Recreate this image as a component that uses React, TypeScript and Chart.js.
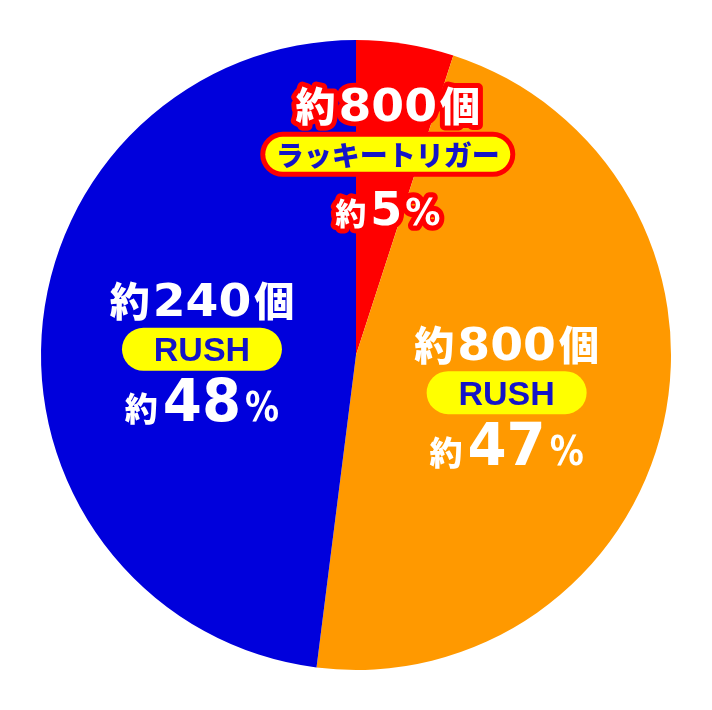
import React, { useEffect, useRef } from "react";
import { Chart, registerables } from "chart.js";

Chart.register(...registerables);

const categories = ["ラッキートリガー", "RUSH", "RUSH"];
const percents = [5, 47, 48];
const counts = ["800", "800", "240"];
const sliceColors = ["#FF0000", "#FF9900", "#0000DC"];

const CJK = '"Noto Sans CJK JP", sans-serif';
const NUM = '"DejaVu Sans", sans-serif';
const LAT = '"Liberation Sans", Arial, sans-serif';

type Seg = { text: string; size: number; family: string; sx: number; gap?: number; weight?: string };

function drawRich(
  ctx: CanvasRenderingContext2D,
  segs: Seg[],
  cx: number,
  baseY: number,
  fill: string,
  stroke: string | null,
  strokeW: number
) {
  const fontOf = (s: Seg) => `${s.weight || "bold"} ${s.size}px ${s.family}`;
  const widths = segs.map((s) => {
    ctx.font = fontOf(s);
    return ctx.measureText(s.text).width * s.sx + (s.gap || 0);
  });
  const total = widths.reduce((a, b) => a + b, 0);
  const x = cx - total / 2;
  const passes: ("stroke" | "fill")[] = stroke ? ["stroke", "fill"] : ["fill"];
  for (const pass of passes) {
    let xx = x;
    segs.forEach((s, i) => {
      ctx.save();
      ctx.font = fontOf(s);
      ctx.textBaseline = "alphabetic";
      ctx.textAlign = "left";
      ctx.translate(xx, baseY);
      ctx.scale(s.sx, 1);
      if (pass === "stroke" && stroke) {
        ctx.strokeStyle = stroke;
        ctx.lineWidth = strokeW / s.sx;
        ctx.lineJoin = "round";
        ctx.strokeText(s.text, 0, 0);
      } else {
        ctx.fillStyle = fill;
        ctx.fillText(s.text, 0, 0);
      }
      ctx.restore();
      xx += widths[i];
    });
  }
}

function pill(ctx: CanvasRenderingContext2D, cx: number, cy: number, w: number, h: number) {
  const r = h / 2;
  ctx.beginPath();
  ctx.moveTo(cx - w / 2 + r, cy - r);
  ctx.lineTo(cx + w / 2 - r, cy - r);
  ctx.arc(cx + w / 2 - r, cy, r, -Math.PI / 2, Math.PI / 2);
  ctx.lineTo(cx - w / 2 + r, cy + r);
  ctx.arc(cx - w / 2 + r, cy, r, Math.PI / 2, (3 * Math.PI) / 2);
  ctx.closePath();
}

const labelPlugin = {
  id: "sliceLabels",
  afterDatasetsDraw(chart: any) {
    const ctx: CanvasRenderingContext2D = chart.ctx;
    const meta = chart.getDatasetMeta(0);
    meta.data.forEach((arc: any, i: number) => {
      const { x, y, startAngle, endAngle, outerRadius } = arc.getProps(
        ["x", "y", "startAngle", "endAngle", "outerRadius"],
        true
      );
      const mid = (startAngle + endAngle) / 2;
      const isSmall = percents[i] < 10;
      const f = isSmall ? 0.645 : 0.49;
      const px = x + Math.cos(mid) * outerRadius * f;
      const py = y + Math.sin(mid) * outerRadius * f + (isSmall ? 0 : 4);
      ctx.save();
      const countSegs: Seg[] = [
        { text: "約", size: 40, family: CJK, sx: 1, gap: 3, weight: "900" },
        { text: counts[i], size: 45, family: NUM, sx: 1.05, gap: 3 },
        { text: "個", size: 40, family: CJK, sx: 1, weight: "900" },
      ];
      if (isSmall) {
        drawRich(ctx, countSegs, px, py - 33, "#FFFFFF", "#FF0000", 10);
        pill(ctx, px, py, 245, 35);
        ctx.lineWidth = 10;
        ctx.strokeStyle = "#FF0000";
        ctx.stroke();
        ctx.fillStyle = "#FFFF00";
        ctx.fill();
        ctx.font = `900 28px ${CJK}`;
        ctx.textAlign = "center";
        ctx.textBaseline = "middle";
        ctx.fillStyle = "#1414C8";
        ctx.fillText(categories[i], px, py + 1);
        drawRich(
          ctx,
          [
            { text: "約", size: 31, family: CJK, sx: 1, gap: 4, weight: "900" },
            { text: String(percents[i]), size: 46, family: NUM, sx: 1.0, gap: 3 },
            { text: "%", size: 37, family: NUM, sx: 0.95 },
          ],
          px,
          py + 71,
          "#FFFFFF",
          "#FF0000",
          10
        );
      } else {
        drawRich(ctx, countSegs, px, py - 33, "#FFFFFF", null, 0);
        pill(ctx, px, py, 160, 43);
        ctx.fillStyle = "#FFFF00";
        ctx.fill();
        ctx.font = `bold 34px ${LAT}`;
        ctx.textAlign = "center";
        ctx.textBaseline = "alphabetic";
        ctx.fillStyle = "#1414C8";
        ctx.fillText(categories[i], px, py + 12);
        drawRich(
          ctx,
          [
            { text: "約", size: 33, family: CJK, sx: 1, gap: 5, weight: "900" },
            { text: String(percents[i]), size: 58, family: NUM, sx: 0.97, gap: 4 },
            { text: "%", size: 40, family: NUM, sx: 0.85 },
          ],
          px,
          py + 72,
          "#FFFFFF",
          null,
          0
        );
      }
      ctx.restore();
    });
  },
};

export default function App() {
  const ref = useRef<HTMLCanvasElement | null>(null);
  useEffect(() => {
    if (!ref.current) return;
    const chart = new Chart(ref.current, {
      type: "pie",
      data: {
        labels: categories,
        datasets: [
          {
            data: percents,
            backgroundColor: sliceColors,
            borderWidth: 0,
          },
        ],
      },
      options: {
        responsive: false,
        animation: false,
        layout: { padding: { top: 40, bottom: 40, left: 41, right: 41 } },
        plugins: { legend: { display: false }, tooltip: { enabled: false } },
      },
      plugins: [labelPlugin],
    });
    return () => chart.destroy();
  }, []);
  return (
    <div style={{ position: "fixed", left: 0, top: 0, width: 712, height: 710, background: "#fff" }}>
      <canvas ref={ref} width={712} height={710} style={{ width: 712, height: 710, display: "block" }} />
    </div>
  );
}
